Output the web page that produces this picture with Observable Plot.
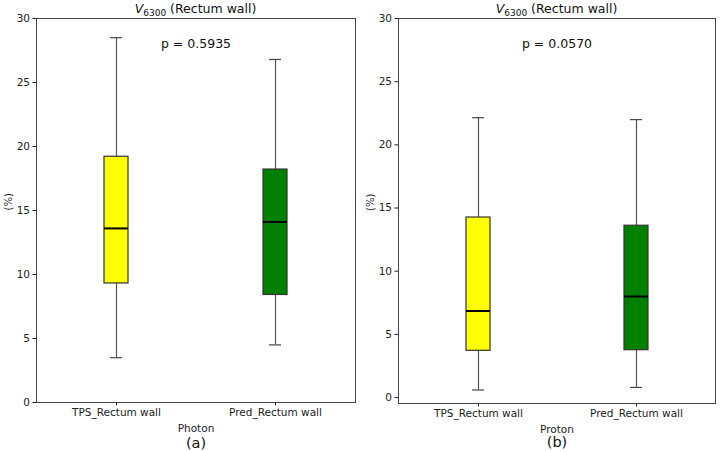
<!DOCTYPE html>
<html>
<head>
<meta charset="utf-8">
<script src="https://cdn.jsdelivr.net/npm/d3@7"></script>
<script src="https://cdn.jsdelivr.net/npm/@observablehq/plot@0.6"></script>
<style>
  html, body { margin: 0; padding: 0; background: #fff; }
  #wrap { display: flex; width: 720px; height: 451px; }
</style>
</head>
<body>
<div id="wrap"></div>
<script>
const categories = ["TPS_Rectum wall", "Pred_Rectum wall"];
const boxColors = ["#ffff00", "#008000"];
const groups = ["Photon", "Proton"];
const panelTags = ["(a)", "(b)"];
const pValues = ["p = 0.5935", "p = 0.0570"];
const yTicks = [0, 5, 10, 15, 20, 25, 30];

// Photon (a)
const photonLow = [3.5, 4.5];
const photonQ1 = [9.3, 8.4];
const photonMedian = [13.6, 14.1];
const photonQ3 = [19.2, 18.2];
const photonHigh = [28.5, 26.8];

// Proton (b)
const protonLow = [0.6, 0.8];
const protonQ1 = [3.7, 3.75];
const protonMedian = [6.85, 8.0];
const protonQ3 = [14.25, 13.6];
const protonHigh = [22.15, 22.0];

const font = "DejaVu Sans, sans-serif";

function panel(i, low, q1, med, q3, high, opts) {
  const data = categories.map((c, k) => ({
    cat: c, low: low[k], q1: q1[k], med: med[k], q3: q3[k], high: high[k], color: boxColors[k]
  }));
  const svg = Plot.plot({
    width: 360,
    height: 451,
    marginLeft: opts.marginLeft,
    marginRight: 5,
    marginTop: 18,
    marginBottom: opts.marginBottom,
    style: { fontFamily: font, fontSize: "10.5px", color: "#222", background: "#fff" },
    x: { domain: categories, paddingInner: 0.85, paddingOuter: 0.425, tickSize: 3.5, tickPadding: 3, label: null },
    y: { domain: opts.yDomain, ticks: yTicks, tickSize: 3.5, tickPadding: 3, label: null },
    color: { type: "identity" },
    marks: [
      Plot.ruleX(data, { x: "cat", y1: "low", y2: "q1", stroke: "#555", strokeWidth: 1.2 }),
      Plot.ruleX(data, { x: "cat", y1: "q3", y2: "high", stroke: "#555", strokeWidth: 1.2 }),
      Plot.tickY(data, { x: "cat", y: "low", stroke: "#444", strokeWidth: 1.2, insetLeft: 6, insetRight: 6 }),
      Plot.tickY(data, { x: "cat", y: "high", stroke: "#444", strokeWidth: 1.2, insetLeft: 6, insetRight: 6 }),
      Plot.barY(data, { x: "cat", y1: "q1", y2: "q3", fill: "color", stroke: "#333", strokeWidth: 1.2 }),
      Plot.tickY(data, { x: "cat", y: "med", stroke: "#000", strokeWidth: 2 }),
      Plot.frame({ stroke: "#444", strokeWidth: 1 }),
      Plot.text([pValues[i]], { frameAnchor: "top", lineAnchor: "middle", dy: 25, text: d => d, fontSize: 12.5, fill: "#111" }),
      Plot.text([groups[i]], { frameAnchor: "bottom", lineAnchor: "middle", dy: 26, text: d => d, fontSize: 10.5, fill: "#222" }),
      Plot.text([panelTags[i]], { frameAnchor: "bottom", lineAnchor: "middle", dy: opts.tagDy, text: d => d, fontSize: 14.5, fill: "#111" }),
      Plot.text(["(%)"], { frameAnchor: "left", dx: -opts.marginLeft + opts.yLabelX, rotate: -90, text: d => d, fontSize: 10, fill: "#222" })
    ]
  });
  // title with italic V and subscript
  const s = d3.select(svg);
  const cx = opts.marginLeft + (360 - opts.marginLeft - 5) / 2;
  const t = s.append("text")
    .attr("x", cx).attr("y", 13)
    .attr("text-anchor", "middle")
    .style("font-family", font)
    .style("font-size", "12.5px")
    .style("fill", "#111");
  t.append("tspan").style("font-style", "italic").style("font-size", "12.5px").text("V");
  t.append("tspan").style("font-size", "9px").attr("dy", "3").text("6300");
  t.append("tspan").style("font-size", "12.5px").attr("dy", "-3").text(" (Rectum wall)");
  return svg;
}

const wrap = document.getElementById("wrap");
wrap.appendChild(panel(0, photonLow, photonQ1, photonMedian, photonQ3, photonHigh,
  { marginLeft: 36, marginBottom: 49, yDomain: [0, 30], yLabelX: 8, tagDy: 41 }));
wrap.appendChild(panel(1, protonLow, protonQ1, protonMedian, protonQ3, protonHigh,
  { marginLeft: 38, marginBottom: 48, yDomain: [-0.47, 30], yLabelX: 10, tagDy: 39 }));
</script>
</body>
</html>
